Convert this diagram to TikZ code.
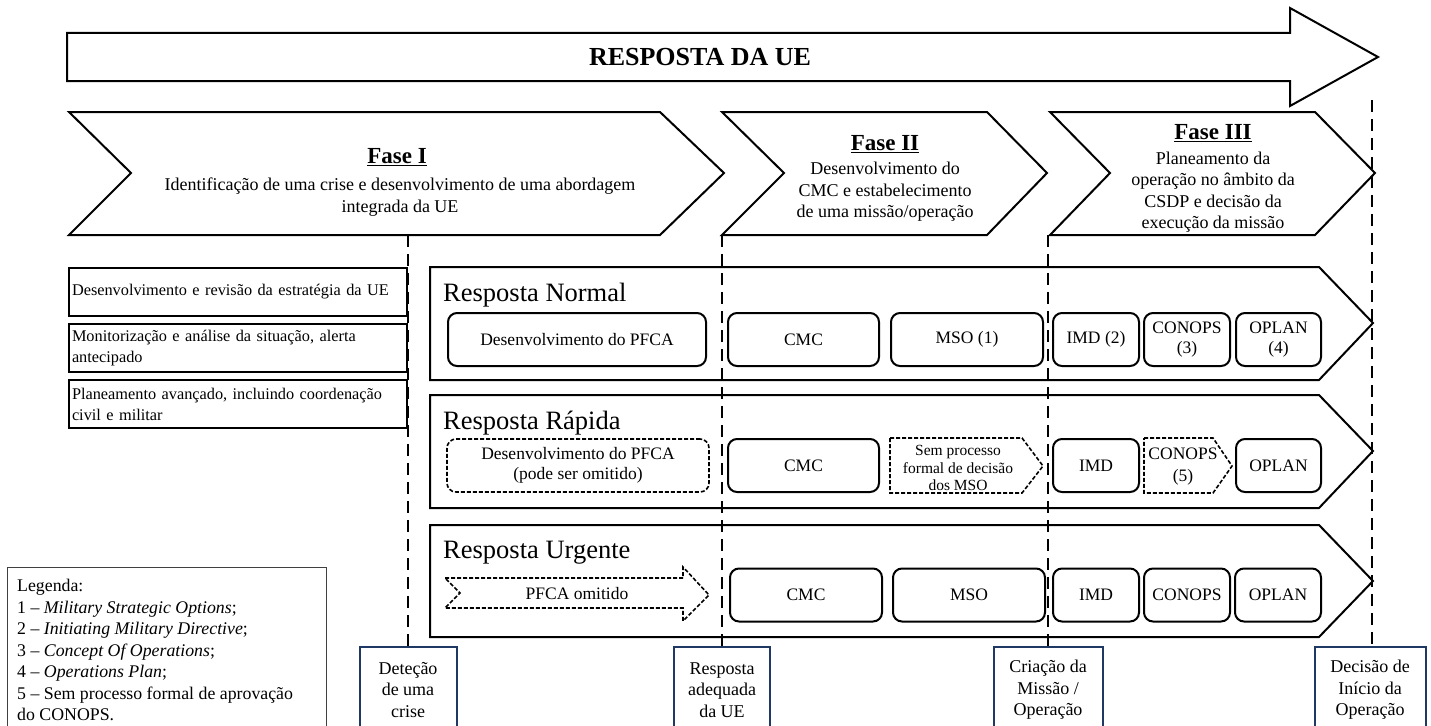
\documentclass[tikz,border=0pt]{standalone}
\usepackage{fontspec}
\setmainfont{Liberation Serif}
\definecolor{navy}{HTML}{203864}
\definecolor{leggray}{HTML}{404040}
\begin{document}
\begin{tikzpicture}[x=1pt,y=-1pt,line join=miter,
  outl/.style={draw=black,line width=2pt,fill=white},
  dl/.style={line width=2.5pt,dash pattern=on 12pt off 7pt},
  ibox/.style={draw,line width=2pt,rounded corners=9pt,minimum height=53pt,inner sep=1pt,align=center,fill=white,font=\fontsize{17.5}{20}\selectfont},
  dbox/.style={ibox,line width=1.6pt,dash pattern=on 4pt off 2pt},
  dshape/.style={draw,line width=1.6pt,dash pattern=on 4pt off 2pt,fill=white},
  lbox/.style={draw,line width=2pt,minimum width=338pt,text width=332pt,align=left,inner sep=3pt,fill=white,font=\fontsize{16.3}{21}\selectfont},
  mbox/.style={draw=navy,line width=2pt,minimum height=86pt,align=center,inner sep=2pt,fill=white,font=\fontsize{18}{21.5}\selectfont},
  ftitle/.style={font=\fontsize{23}{26}\selectfont\bfseries,inner sep=0pt},
  fdesc/.style={align=center,inner sep=0pt,font=\fontsize{18}{21.5}\selectfont},
  rtitle/.style={font=\fontsize{26.5}{30}\selectfont,inner sep=0pt},
  txt/.style={align=center,inner sep=0pt,font=\fontsize{17.5}{20}\selectfont}]
\useasboundingbox[fill=white] (0,0) rectangle (1431,725);

% big arrow
\draw[outl] (67,33) -- (1290,33) -- (1290,8) -- (1378,57) -- (1290,106) -- (1290,81) -- (67,81) -- cycle;
\node[font=\fontsize{26}{30}\selectfont\bfseries,inner sep=0pt] (title) at (700,57) {RESPOSTA DA UE};

% phase chevrons
\draw[outl] (69,112) -- (660,112) -- (724,173) -- (660,235) -- (69,235) -- (131,173) -- cycle;
\draw[outl] (722,112) -- (987,112) -- (1047,173) -- (987,235) -- (722,235) -- (784,173) -- cycle;
\draw[outl] (1050,112) -- (1315,112) -- (1375,173) -- (1315,235) -- (1050,235) -- (1110,173) -- cycle;

\node[ftitle] (f1t) at (397,157) {\underline{Fase I}};
\node[fdesc] (f1d) at (400,197) {Identificação de uma crise e desenvolvimento de uma abordagem\\integrada da UE};
\node[ftitle] (f2t) at (885,144) {\underline{Fase II}};
\node[fdesc] (f2d) at (885,192) {Desenvolvimento do\\CMC e estabelecimento\\de uma missão/operação};
\node[ftitle] (f3t) at (1213,133) {\underline{Fase III}};
\node[fdesc] (f3d) at (1213,192) {Planeamento da\\operação no âmbito da\\CSDP e decisão da\\execução da missão};

% left boxes
\node[lbox,minimum height=48pt] (l1) at (238,292) {Desenvolvimento e revisão da estratégia da UE};
\node[lbox,minimum height=48pt] (l2) at (238,348) {Monitorização e análise da situação, alerta\\antecipado};
\node[lbox,minimum height=48pt] (l3) at (238,404) {Planeamento avançado, incluindo coordenação\\civil e militar};

% response rows
\draw[outl] (430,267) -- (1319,267) -- (1373,323) -- (1319,380) -- (430,380) -- cycle;
\draw[outl] (430,395) -- (1319,395) -- (1373,451) -- (1319,508) -- (430,508) -- cycle;
\draw[outl] (430,525) -- (1319,525) -- (1373,581) -- (1319,637) -- (430,637) -- cycle;
\node[rtitle,anchor=base west] (rn) at (443,301) {Resposta Normal};
\node[rtitle,anchor=base west] (rr) at (443,429) {Resposta Rápida};
\node[rtitle,anchor=base west] (ru) at (443,558) {Resposta Urgente};

% milestones and dashed lines
\coordinate (d1) at (408,235);
\coordinate (d2) at (722,235);
\coordinate (d3) at (1048,235);
\coordinate (d4) at (1372,100);
\node[mbox,minimum width=97pt] (det) at (408,690) {Deteção\\de uma\\crise};
\node[mbox,minimum width=96pt] (adq) at (722,690) {Resposta\\adequada\\da UE};
\node[mbox,minimum width=109pt] (cri) at (1048,690) {Criação da\\Missão /\\Operação};
\node[mbox,minimum width=111pt] (dec) at (1370,690) {Decisão de\\Início da\\Operação};
\draw[dl] (d1) -- (det.north);
\draw[dl] (d2) -- (adq.north);
\draw[dl] (d3) -- (cri.north);
\draw[dl] (d4) -- (d4 |- dec.north);

% normal row
\node[ibox,minimum width=258pt] (n1) at (577,339.5) {Desenvolvimento do PFCA};
\node[ibox,minimum width=151pt] (n2) at (803.5,339.5) {CMC};
\node[ibox,minimum width=152pt] (n3) at (967,339.5) {MSO (1)};
\node[ibox,minimum width=86pt] (n4) at (1096,339.5) {IMD (2)};
\node[ibox,minimum width=86pt] (n5) at (1187,339.5) {CONOPS\\(3)};
\node[ibox,minimum width=85pt] (n6) at (1278.5,339.5) {OPLAN\\(4)};

% rapid row
\node[dbox,minimum width=262pt] (r1) at (578,465.5) {Desenvolvimento do PFCA\\(pode ser omitido)};
\node[ibox,minimum width=151pt] (r2) at (803.5,465.5) {CMC};
\draw[dshape] (890,438) -- (1022,438) -- (1043,466) -- (1022,493) -- (890,493) -- cycle;
\node[align=center,inner sep=0pt,font=\fontsize{15.5}{17.5}\selectfont] (r3) at (958,468) {Sem processo\\formal de decisão\\dos MSO};
\node[ibox,minimum width=86pt] (r4) at (1096,465.5) {IMD};
\draw[dshape] (1144,438) -- (1213,438) -- (1232,466) -- (1213,493) -- (1144,493) -- cycle;
\node[txt,font=\fontsize{17.5}{22}\selectfont] (r5) at (1183,467) {CONOPS\\(5)};
\node[ibox,minimum width=85pt] (r6) at (1278.5,465.5) {OPLAN};

% urgent row
\draw[dshape] (445,578) -- (683,578) -- (683,567) -- (709,595) -- (683,621) -- (683,608) -- (445,608) -- (460,593) -- cycle;
\node[txt] (u1) at (577,594) {PFCA omitido};
\node[ibox,minimum width=152pt] (u2) at (806,595) {CMC};
\node[ibox,minimum width=152pt] (u3) at (969,595) {MSO};
\node[ibox,minimum width=86pt] (u4) at (1096,595) {IMD};
\node[ibox,minimum width=86pt] (u5) at (1187,595) {CONOPS};
\node[ibox,minimum width=86pt] (u6) at (1278,595) {OPLAN};

% legend
\draw[draw=leggray,line width=1pt] (7,730) -- (7,567) -- (326,567) -- (326,730);
\node[anchor=north west,align=left,inner sep=0pt,font=\fontsize{17.8}{21.5}\selectfont] (leg) at (17,579) {Legenda:\\1 – \textit{Military Strategic Options};\\2 – \textit{Initiating Military Directive};\\3 – \textit{Concept Of Operations};\\4 – \textit{Operations Plan};\\5 – Sem processo formal de aprovação\\do CONOPS.};
\end{tikzpicture}
\end{document}
